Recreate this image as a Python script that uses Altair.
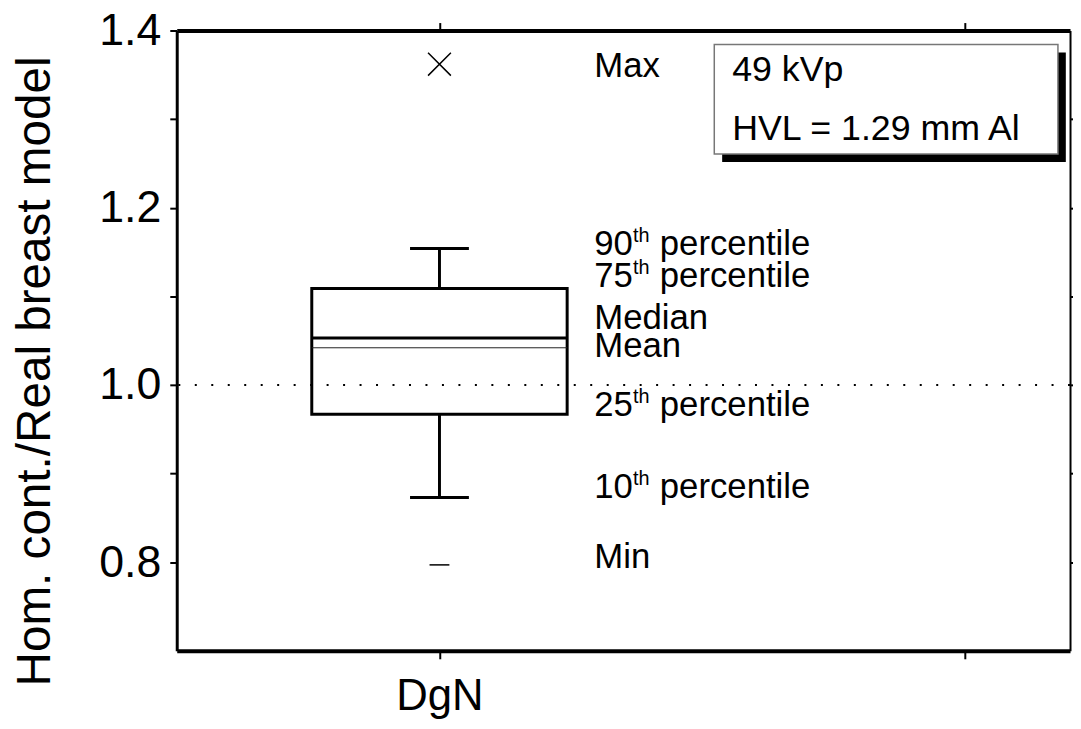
import altair as alt
import pandas as pd

# ---- data ----
category = ["DgN"]
cat_pos = [1]
v_min = [0.797]
p10 = [0.873]
p25 = [0.967]
median = [1.053]
mean = [1.042]
p75 = [1.109]
p90 = [1.154]
v_max = [1.362]

label_main = ["Max", "90", "75", "Median", "Mean", "25", "10", "Min"]
label_sup = ["", "th", "th", "", "", "th", "th", ""]
label_rest = ["", "percentile", "percentile", "", "", "percentile", "percentile", ""]
label_y = [1.348, 1.147, 1.111, 1.063, 1.032, 0.965, 0.873, 0.793]

ref_level = [1.0]

info_lines = ["49 kVp", "HVL = 1.29 mm Al"]
info_line_y = [1.343, 1.276]
info_box_x = [1.523, 2.177]
info_box_y = [1.2607, 1.3843]

# ---- style constants ----
FONT = "Liberation Sans"
BOX_HALF = 0.243
CAP_HALF = 0.056
SHADOW_DX = 0.015
SHADOW_DY = 0.009

stats = pd.DataFrame({
    "cat": category, "x": cat_pos, "vmin": v_min, "p10": p10, "p25": p25,
    "median": median, "mean": mean, "p75": p75, "p90": p90, "vmax": v_max,
})
stats["bx1"] = stats["x"] - BOX_HALF
stats["bx2"] = stats["x"] + BOX_HALF
stats["cx1"] = stats["x"] - CAP_HALF
stats["cx2"] = stats["x"] + CAP_HALF

labels = pd.DataFrame({"x": [cat_pos[0]] * len(label_main), "y": label_y,
                       "main": label_main, "sup": label_sup, "rest": label_rest})
ref_df = pd.DataFrame({"y": ref_level})
info_df = pd.DataFrame({"x": [info_box_x[0]] * 2, "y": info_line_y, "t": info_lines})
box_df = pd.DataFrame({"x1": [info_box_x[0]], "x2": [info_box_x[1]],
                       "y1": [info_box_y[0]], "y2": [info_box_y[1]]})
box_df["sx1"] = box_df["x1"] + SHADOW_DX
box_df["sx2"] = box_df["x2"] + SHADOW_DX
box_df["sy1"] = box_df["y1"] - SHADOW_DY
box_df["sy2"] = box_df["y2"] - SHADOW_DY

xs = alt.Scale(domain=[0.5, 2.2], nice=False, zero=False)
ys = alt.Scale(domain=[0.7, 1.4], nice=False, zero=False)

x_bottom = alt.Axis(orient="bottom", values=[1, 2], labelExpr="datum.value == 1 ? 'DgN' : ''",
                    title=None, grid=False, domainWidth=4, domainColor="black",
                    tickColor="black", tickWidth=2, tickSize=8, labelFontSize=44,
                    labelFont=FONT, labelColor="black", labelPadding=16, labelFlush=False,
                    labelOverlap=False)
x_top = alt.Axis(orient="top", values=[1, 2], labels=False, title=None, grid=False,
                 domainWidth=4, domainColor="black", tickColor="black", tickWidth=2, tickSize=8)
y_left = alt.Axis(orient="left", values=[0.8, 0.9, 1.0, 1.1, 1.2, 1.3, 1.4], format=".1f",
                  labelExpr="(datum.label == '0.8' || datum.label == '1.0' || datum.label == '1.2' || datum.label == '1.4') ? datum.label : ''",
                  title="Hom. cont./Real breast model", grid=False, domainWidth=3,
                  domainColor="black", tickColor="black", tickWidth=2, tickSize=7,
                  labelFontSize=45, labelFont=FONT, labelColor="black", labelPadding=9,
                  labelFlush=False, labelOverlap=False,
                  titleFont=FONT, titleFontSize=48, titleFontWeight="normal", titleColor="black",
                  titleX=-128, titleY=343, titleBaseline="alphabetic", titleAngle=-90)
y_right = alt.Axis(orient="right", values=[0.8, 0.9, 1.0, 1.1, 1.2, 1.3], labels=False,
                   title=None, grid=False, domainWidth=2, domainColor="black",
                   tickColor="black", tickWidth=2, tickSize=3)

base = alt.Chart(stats)

box = base.mark_rect(filled=False, stroke="black", strokeWidth=3).encode(
    x=alt.X("bx1:Q", scale=xs, axis=x_bottom),
    x2="bx2:Q",
    y=alt.Y("p25:Q", scale=ys, axis=y_left),
    y2="p75:Q",
)

ref_line = alt.Chart(ref_df).mark_rule(color="black", strokeWidth=2, strokeDash=[2, 14.6]).encode(
    y=alt.Y("y:Q", scale=ys, axis=y_right),
)

whisk_up = base.mark_rule(color="black", strokeWidth=3).encode(
    x=alt.X("x:Q", scale=xs, axis=x_top),
    y=alt.Y("p75:Q", scale=ys, axis=None), y2="p90:Q",
)
whisk_lo = base.mark_rule(color="black", strokeWidth=3).encode(
    x=alt.X("x:Q", scale=xs, axis=None),
    y=alt.Y("p10:Q", scale=ys, axis=None), y2="p25:Q",
)
cap_up = base.mark_rule(color="black", strokeWidth=3).encode(
    x=alt.X("cx1:Q", scale=xs, axis=None), x2="cx2:Q",
    y=alt.Y("p90:Q", scale=ys, axis=None),
)
cap_lo = base.mark_rule(color="black", strokeWidth=3).encode(
    x=alt.X("cx1:Q", scale=xs, axis=None), x2="cx2:Q",
    y=alt.Y("p10:Q", scale=ys, axis=None),
)
med = base.mark_rule(color="black", strokeWidth=3).encode(
    x=alt.X("bx1:Q", scale=xs, axis=None), x2="bx2:Q",
    y=alt.Y("median:Q", scale=ys, axis=None),
)
mn = base.mark_rule(color="#222", strokeWidth=1).encode(
    x=alt.X("bx1:Q", scale=xs, axis=None), x2="bx2:Q",
    y=alt.Y("mean:Q", scale=ys, axis=None),
)
mx_pt = base.mark_point(shape="M-1,-1L1,1M-1,1L1,-1", size=529, filled=False,
                        stroke="black", strokeWidth=1.5, opacity=1).encode(
    x=alt.X("x:Q", scale=xs, axis=None),
    y=alt.Y("vmax:Q", scale=ys, axis=None),
)
min_pt = base.mark_point(shape="M-1,0L1,0", size=400, filled=False,
                         stroke="black", strokeWidth=1.5, opacity=1).encode(
    x=alt.X("x:Q", scale=xs, axis=None),
    y=alt.Y("vmin:Q", scale=ys, axis=None),
)

lab_base = alt.Chart(labels)
lab_main = lab_base.mark_text(align="left", baseline="alphabetic", dx=156, fontSize=35,
                              font=FONT, color="black").encode(
    x=alt.X("x:Q", scale=xs, axis=None), y=alt.Y("y:Q", scale=ys, axis=None), text="main:N")
lab_sup = lab_base.mark_text(align="left", baseline="alphabetic", dx=195, dy=-13, fontSize=20,
                             font=FONT, color="black").encode(
    x=alt.X("x:Q", scale=xs, axis=None), y=alt.Y("y:Q", scale=ys, axis=None), text="sup:N")
lab_rest = lab_base.mark_text(align="left", baseline="alphabetic", dx=222, fontSize=35,
                              font=FONT, color="black").encode(
    x=alt.X("x:Q", scale=xs, axis=None), y=alt.Y("y:Q", scale=ys, axis=None), text="rest:N")

shadow = alt.Chart(box_df).mark_rect(color="black").encode(
    x=alt.X("sx1:Q", scale=xs, axis=None), x2="sx2:Q",
    y=alt.Y("sy1:Q", scale=ys, axis=None), y2="sy2:Q",
)
info_rect = alt.Chart(box_df).mark_rect(fill="white", stroke="#777", strokeWidth=1.5).encode(
    x=alt.X("x1:Q", scale=xs, axis=None), x2="x2:Q",
    y=alt.Y("y1:Q", scale=ys, axis=None), y2="y2:Q",
)
info_text = alt.Chart(info_df).mark_text(align="left", baseline="alphabetic", dx=18,
                                         fontSize=36, font=FONT, color="black").encode(
    x=alt.X("x:Q", scale=xs, axis=None), y=alt.Y("y:Q", scale=ys, axis=None), text="t:N")

chart = alt.layer(
    ref_line, box, whisk_up, whisk_lo, cap_up, cap_lo, med, mn, mx_pt, min_pt,
    lab_main, lab_sup, lab_rest, shadow, info_rect, info_text,
).resolve_axis(x="independent", y="independent").properties(
    width=900, height=625,
    autosize=alt.AutoSizeParams(type="none"),
    padding={"left": 170, "top": 20, "right": 3, "bottom": 68},
).configure_view(strokeWidth=0)

chart.save("out.html", embed_options={"renderer": "svg", "actions": False})
